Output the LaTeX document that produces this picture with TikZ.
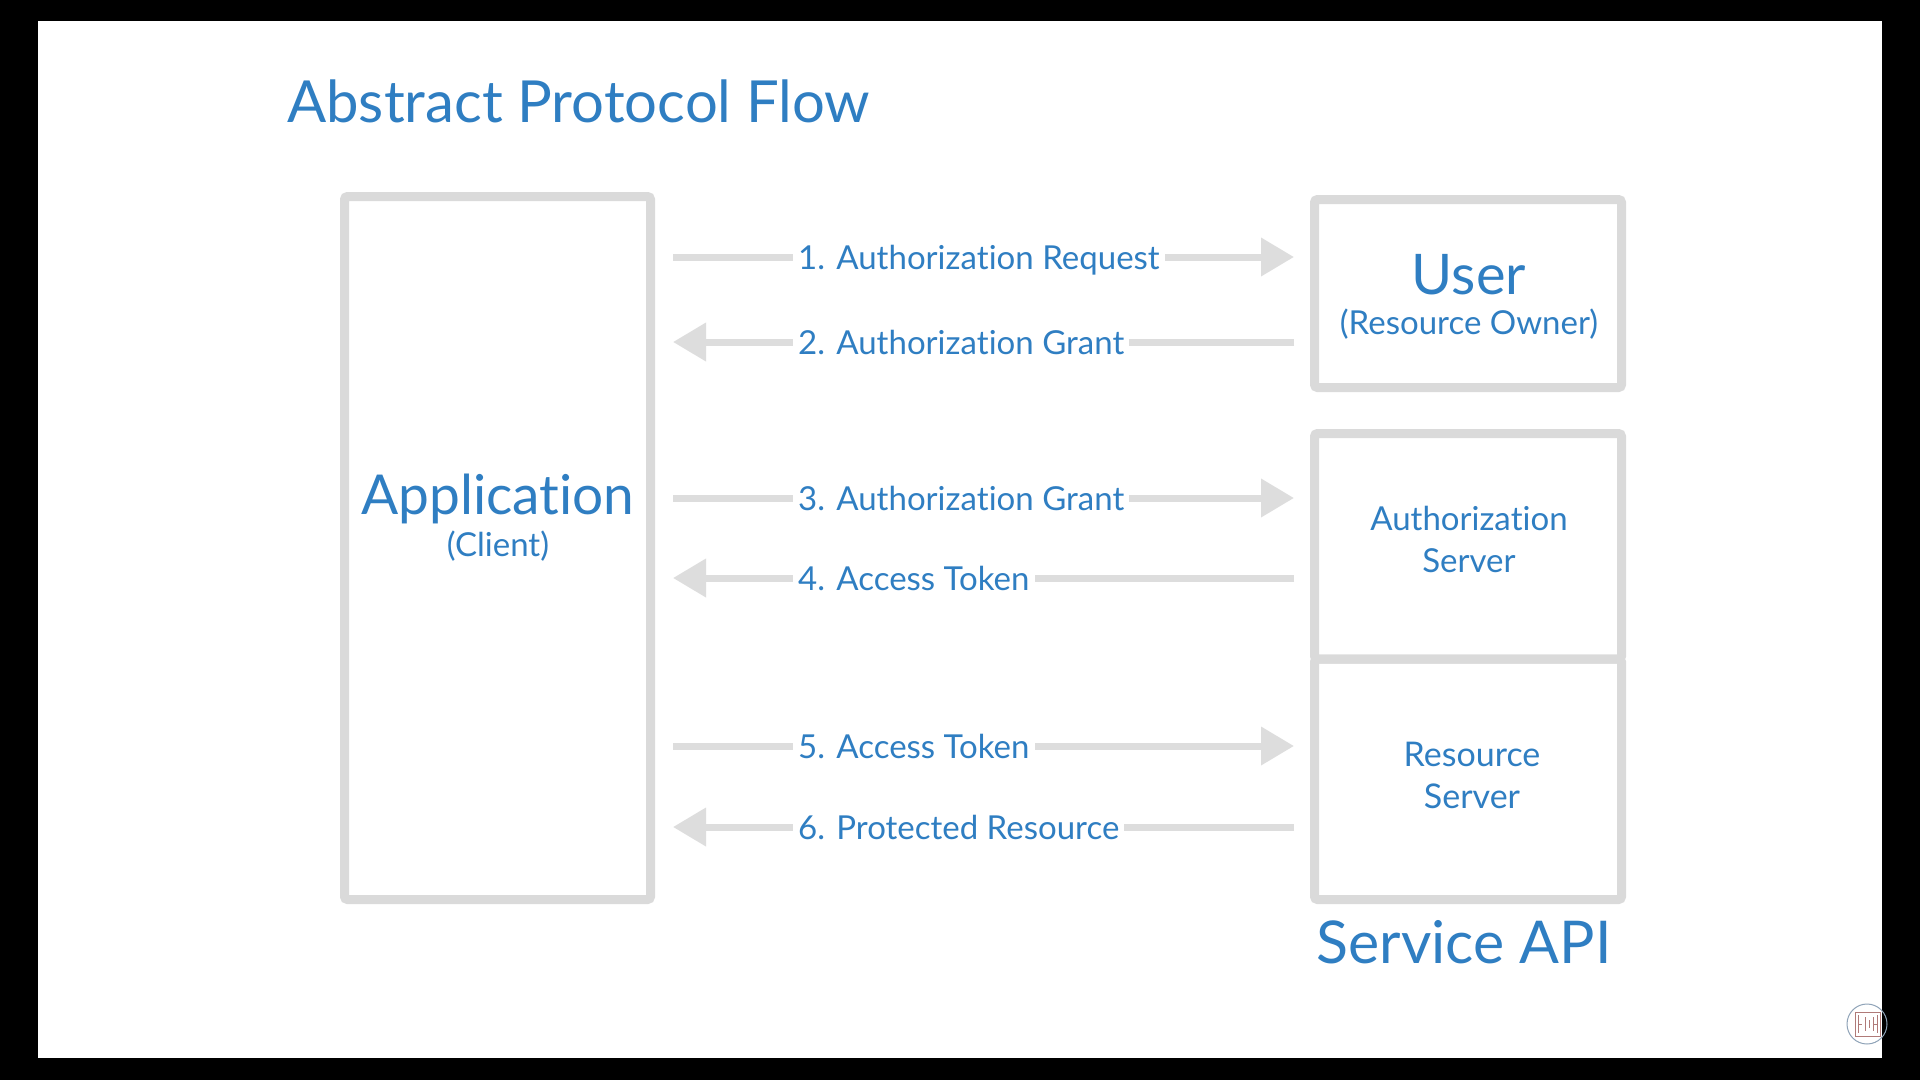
\documentclass[tikz,border=0pt]{standalone}
\usepackage{fontspec}
\setmainfont{Lato}[Ligatures={NoCommon,NoContextual,NoRare}]
\usetikzlibrary{arrows.meta}
\definecolor{txtblue}{HTML}{2F7EC2}
\definecolor{boxgray}{HTML}{DADADA}
\definecolor{arrgray}{HTML}{DDDDDD}
\definecolor{wmblue}{HTML}{8FA3B8}
\definecolor{wmred}{HTML}{B07A78}
\newcommand{\authword}{Authoriza\kern0pt t\kern0pt ion}
\begin{document}
\begin{tikzpicture}[x=1pt,y=-1pt,
  boxline/.style={draw=boxgray,line width=9pt,rounded corners=3pt,inner sep=0pt,outer sep=0pt},
  flowarrow/.style={draw=arrgray,line width=7pt,-{Triangle[length=33pt,width=37pt]}},
  flowlbl/.style={fill=white,text=txtblue,font=\fontsize{33}{40}\selectfont,inner xsep=5pt,inner ysep=3pt,anchor=base west},
  bigtxt/.style={text=txtblue,inner sep=0pt},
]
\useasboundingbox (0,0) rectangle (1920,1080);
\fill[black] (0,0) rectangle (1920,1080);
\fill[white] (38,21) rectangle (1882,1058);

% title
\node[bigtxt,anchor=base west,font=\fontsize{58}{66}\selectfont] (title) at (287,122) {Abstract Protocol Flow};

% boxes
\node[boxline,minimum width=306pt,minimum height=703pt] (app) at (497.5,548) {};
\node[boxline,minimum width=307pt,minimum height=188pt] (user) at (1468,293.5) {};
\node[boxline,minimum width=307pt,minimum height=225.5pt] (auth) at (1468,546.25) {};
\node[boxline,minimum width=307pt,minimum height=240.5pt] (res) at (1468,779.25) {};

% box texts
\node[bigtxt,font=\fontsize{55}{60}\selectfont] (apptxt) at (498,499) {Application};
\node[bigtxt,font=\fontsize{33}{38}\selectfont] (clienttxt) at (498,546) {(Client)};
\node[bigtxt,font=\fontsize{56}{60}\selectfont] (usertxt) at (1469,275) {User};
\node[bigtxt,font=\fontsize{33}{38}\selectfont] (ownertxt) at (1469,324) {(Resource Owner)};
\node[bigtxt,align=center,font=\fontsize{33}{42}\selectfont] (authtxt) at (1469,539) {\authword\\Server};
\node[bigtxt,align=center,font=\fontsize{34}{42}\selectfont] (restxt) at (1472,775) {Resource\\Server};
\node[bigtxt,font=\fontsize{59}{64}\selectfont] (apitxt) at (1464,942) {Service API};

% rows
\coordinate (y1) at (0,257);
\coordinate (y2) at (0,342);
\coordinate (y3) at (0,498);
\coordinate (y4) at (0,578);
\coordinate (y5) at (0,746);
\coordinate (y6) at (0,827);

\draw[flowarrow,shorten <=22.5pt,shorten >=20.5pt] (app.east |- y1) -- (user.west |- y1);
\draw[flowarrow,shorten <=20.5pt,shorten >=22.5pt] (user.west |- y2) -- (app.east |- y2);
\draw[flowarrow,shorten <=22.5pt,shorten >=20.5pt] (app.east |- y3) -- (auth.west |- y3);
\draw[flowarrow,shorten <=20.5pt,shorten >=22.5pt] (auth.west |- y4) -- (app.east |- y4);
\draw[flowarrow,shorten <=22.5pt,shorten >=20.5pt] (app.east |- y5) -- (res.west |- y5);
\draw[flowarrow,shorten <=20.5pt,shorten >=22.5pt] (res.west |- y6) -- (app.east |- y6);

\node[flowlbl] (l1) at (793,269) {1. \authword\ Request};
\node[flowlbl] (l2) at (793,354) {2. \authword\ Grant};
\node[flowlbl] (l3) at (793,510) {3. \authword\ Grant};
\node[flowlbl] (l4) at (793,590) {4. Access Token};
\node[flowlbl] (l5) at (793,758) {5. Access Token};
\node[flowlbl] (l6) at (793,839) {6. Protected Resource};

% watermark
\draw[wmblue,line width=1pt] (1867,1024) circle[radius=20];
\draw[wmred,line width=1pt] (1855,1012) rectangle (1880,1036);
\draw[wmred,line width=1pt] (1858,1015) -- (1858,1033) (1858,1024) -- (1862,1024)
  (1865,1017) -- (1865,1031) (1869,1020) -- (1869,1028) (1873,1017) -- (1873,1031)
  (1877,1015) -- (1877,1033) (1873,1024) -- (1877,1024);
\end{tikzpicture}
\end{document}
